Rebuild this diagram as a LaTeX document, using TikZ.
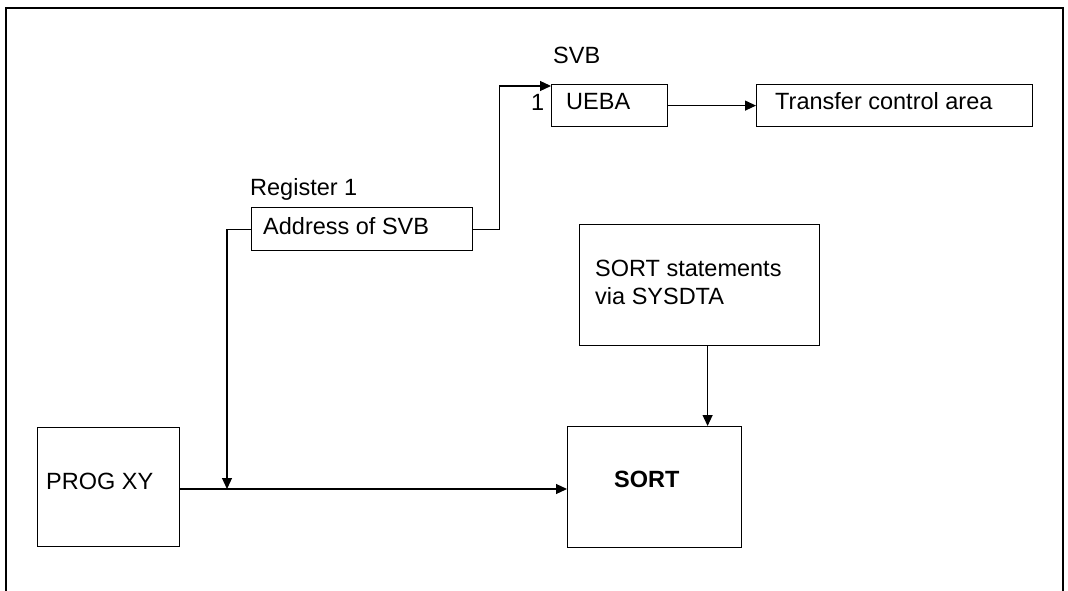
\documentclass[tikz,border=0pt]{standalone}
\usepackage{fontspec}
\setmainfont{Liberation Sans}
\usetikzlibrary{arrows.meta}
\begin{document}
\begin{tikzpicture}[x=1pt,y=-1pt,
  box/.style={draw,line width=1.2pt,inner sep=0pt,anchor=north west},
  txt/.style={inner sep=0pt,anchor=base west,font=\fontsize{23.5}{28}\selectfont},
  arr/.style={line width=1.2pt,-{Triangle[length=11pt,width=10pt]}},
  ln/.style={line width=1.2pt}]
\useasboundingbox (0,0) rectangle (1068,591);
% outer frame (open at the bottom)
\draw[ln] (6,591) -- (6,8) -- (1063,8) -- (1063,591);
% boxes
\node[box,minimum width=116pt,minimum height=42pt] (ueba) at (551,84) {};
\node[box,minimum width=276pt,minimum height=42pt] (trans) at (756,84) {};
\node[box,minimum width=221pt,minimum height=43pt] (addr) at (251,207) {};
\node[box,minimum width=240pt,minimum height=121pt] (stmt) at (579,224) {};
\node[box,minimum width=142pt,minimum height=119pt] (prog) at (37,427) {};
\node[box,minimum width=174pt,minimum height=121pt] (sort) at (567,426) {};
% texts
\node[txt] (tsvb) at (553,64) {SVB};
\node[txt] (tone) at (531,111) {1};
\node[txt] (tueba) at (566,110) {UEBA};
\node[txt] (ttrans) at (775,110) {Transfer control area};
\node[txt] (treg) at (250,195) {Register 1};
\node[txt] (taddr) at (263,234) {Address of SVB};
\node[txt] (tstmt1) at (595,276) {SORT statements};
\node[txt] (tstmt2) at (595,304) {via SYSDTA};
\node[txt] (tprog) at (46,489) {PROG XY};
\node[txt,font=\fontsize{23.5}{28}\selectfont\bfseries] (tsort) at (614,487) {SORT};
% connectors
\coordinate (j) at (227,489);
\draw[arr] (addr.east) -- ++(26,0) |- ([yshift=-2pt]ueba.north west);
\draw[arr] (ueba.east) -- (trans.west);
\draw[arr] (addr.west) -| (j);
\draw[arr] (prog.east |- j) -- (sort.west |- j);
\draw[arr] ([xshift=8pt]stmt.south) -- ([xshift=8pt]stmt.south |- sort.north);
\end{tikzpicture}
\end{document}
